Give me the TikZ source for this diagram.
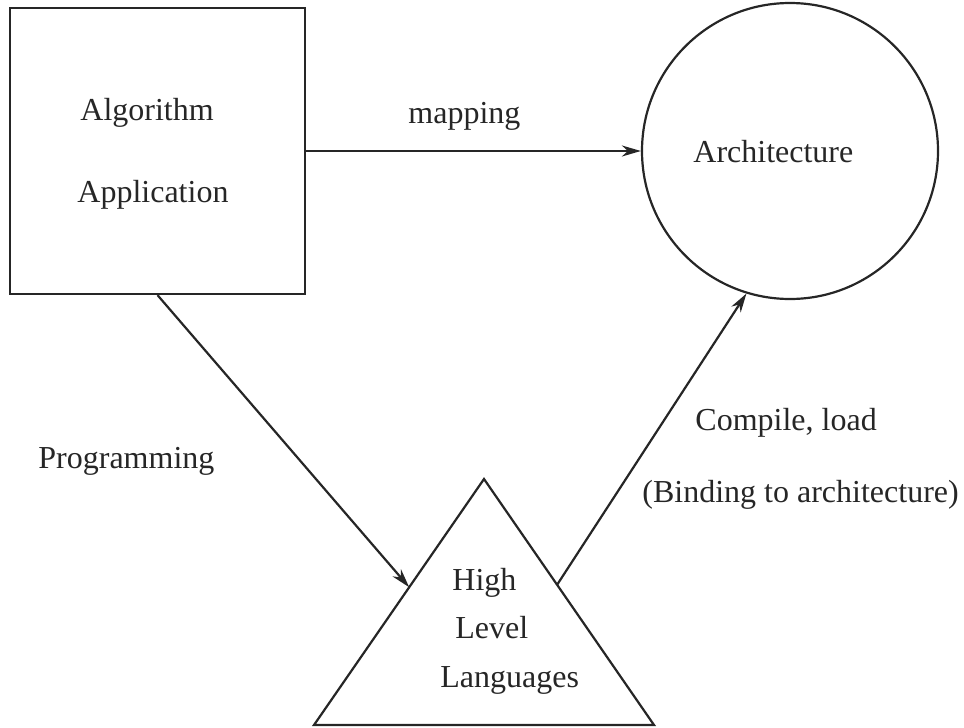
\documentclass[tikz,border=0pt]{standalone}
\usepackage{fontspec}
\setmainfont{Liberation Serif}
\usetikzlibrary{arrows.meta,calc}
\begin{document}
\begin{tikzpicture}[x=0.5pt,y=-0.5pt,
  ink/.style={draw=black!85, line width=1.1pt},
  lbl/.style={inner sep=0pt, anchor=base west, font=\fontsize{16}{19}\selectfont, text=black!85},
  arr/.style={ink, -{Stealth[length=9.5pt,width=5.5pt,inset=3pt]}},
]
\useasboundingbox (0,0) rectangle (964,728);

% the three blocks
\node[ink, rectangle, minimum width=147.5pt, minimum height=143pt, inner sep=0pt] (alg) at (157.5,151) {};
\node[ink, circle, minimum size=148pt, inner sep=0pt] (arch) at (790,151) {};
\coordinate (apex) at (484,479);
\coordinate (bl) at (314,725);
\coordinate (br) at (654,725);
\draw[ink, line join=miter] (apex) -- (br) -- (bl) -- cycle;

% where the arrows meet the triangle
\coordinate (hlin) at ($(apex)!0.44!(bl)$);
\coordinate (hlout) at ($(apex)!0.43!(br)$);

% connectors
\draw[arr] (alg.east) -- (arch.west);
\draw[arr] (alg.south) -- (hlin);
\draw[arr] (hlout) -- (arch.253);

% texts inside the blocks
\node[lbl] (t1) at (80,120) {Algorithm};
\node[lbl] (t2) at (77,202) {Application};
\node[lbl] (t3) at (693,162) {Architecture};
\node[lbl] (t4) at (452,590) {High};
\node[lbl] (t5) at (455,638) {Level};
\node[lbl] (t6) at (440,687) {Languages};

% connector labels
\node[lbl] (l1) at (408,123) {mapping};
\node[lbl] (l2) at (38,468) {Programming};
\node[lbl] (l3) at (695,430) {Compile, load};
\node[lbl] (l4) at (642,502) {(Binding to architecture)};
\end{tikzpicture}
\end{document}
